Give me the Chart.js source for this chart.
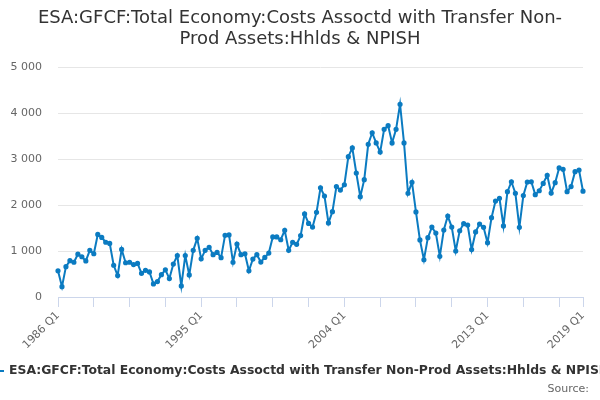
<!DOCTYPE html>
<html>
<head>
<meta charset="utf-8">
<script src="https://cdn.jsdelivr.net/npm/chart.js@4/dist/chart.umd.min.js"></script>
<style>
  html, body { margin: 0; padding: 0; background: #fff; }
  #wrap { width: 600px; height: 400px; }
</style>
</head>
<body>
<div id="wrap"><canvas id="gfcfChart"></canvas></div>
<script>
const serieLabel = 'ESA:GFCF:Total Economy:Costs Assoctd with Transfer Non-Prod Assets:Hhlds & NPISH';
const tituloLineas = ['ESA:GFCF:Total Economy:Costs Assoctd with Transfer Non-', 'Prod Assets:Hhlds & NPISH'];
const anioInicio = 1986;
const anioFin = 2019;

// valores trimestrales 1986 Q1 .. 2019 Q1
const valores = [
    570, 225, 660, 790, 755, 930, 875, 785, 1015, 940,
    1360, 1295, 1190, 1165, 690, 465, 1035, 745, 755, 705,
    730, 515, 580, 545, 285, 335, 485, 590, 400, 715,
    900, 240, 900, 480, 1015, 1275, 830, 1015, 1080, 920,
    970, 855, 1340, 1350, 755, 1150, 920, 940, 570, 825,
    920, 760, 860, 955, 1305, 1305, 1245, 1450, 1015, 1190,
    1145, 1335, 1805, 1600, 1520, 1840, 2375, 2195, 1610, 1855,
    2400, 2325, 2440, 3050, 3240, 2695, 2180, 2550, 3320, 3570,
    3350, 3150, 3645, 3725, 3350, 3645, 4190, 3350, 2255, 2495,
    1850, 1240, 810, 1290, 1520, 1390, 885, 1455, 1760, 1520,
    1000, 1440, 1595, 1565, 1030, 1415, 1585, 1515, 1180, 1725,
    2085, 2145, 1545, 2290, 2505, 2255, 1515, 2205, 2500, 2505,
    2225, 2310, 2470, 2645, 2260, 2485, 2805, 2775, 2290, 2400,
    2725, 2760, 2300
];

const etiquetas = [];
for (let a = anioInicio; a <= anioFin; a++) {
    for (let q = 1; q <= 4; q++) {
        if (a === anioFin && q > 1) break;
        etiquetas.push(`${a} Q${q}`);
    }
}

const ticksConTexto = ['1986 Q1', '1995 Q1', '2004 Q1', '2013 Q1', '2019 Q1'];
const cadaMarca = 9;
const yTicks = [0, 1000, 2000, 3000, 4000, 5000];

const azul = '#0b7bc1';
const fuente = "'DejaVu Sans', sans-serif";

function formato(n) {
    return String(n).replace(/\B(?=(\d{3})+(?!\d))/g, ' ');
}

const extras = {
    id: 'extras',
    afterDraw(chart) {
        const ctx = chart.ctx;
        const w = chart.width;
        ctx.save();
        ctx.textBaseline = 'middle';
        // titulo centrado en todo el canvas
        ctx.fillStyle = '#333333';
        ctx.font = `18px ${fuente}`;
        ctx.textAlign = 'center';
        ctx.fillText(tituloLineas[0], w / 2, 18);
        ctx.fillText(tituloLineas[1], w / 2, 39);
        // leyenda (se sale del canvas, como en la original)
        ctx.strokeStyle = azul;
        ctx.lineWidth = 2;
        ctx.beginPath();
        ctx.moveTo(-10, 371);
        ctx.lineTo(4, 371);
        ctx.stroke();
        ctx.font = `bold 12.4px ${fuente}`;
        ctx.textAlign = 'left';
        ctx.fillText(chart.data.datasets[0].label, 9, 371);
        // fuente
        ctx.fillStyle = '#666666';
        ctx.font = `11px ${fuente}`;
        ctx.textAlign = 'right';
        ctx.fillText('Source:', 589, 389);
        ctx.restore();
    }
};

const lineChart = new Chart(document.getElementById('gfcfChart'), {
    type: 'line',
    data: {
        labels: etiquetas,
        datasets: [
            {
                label: serieLabel,
                data: valores,
                borderColor: azul,
                backgroundColor: azul,
                borderWidth: 2,
                pointRadius: 1.6,
                pointHoverRadius: 3,
                tension: 0
            }
        ]
    },
    options: {
        responsive: true,
        maintainAspectRatio: false,
        animation: false,
        layout: {
            padding: { left: 0, right: 17, top: 67, bottom: 43 }
        },
        plugins: {
            legend: { display: false },
            tooltip: { enabled: false },
            title: { display: false }
        },
        scales: {
            x: {
                offset: false,
                border: { color: '#ccd6eb', width: 1 },
                grid: {
                    drawOnChartArea: false,
                    drawTicks: true,
                    tickLength: 10,
                    color: c => (c.index % cadaMarca === 0 || c.index === etiquetas.length - 1) ? '#ccd6eb' : 'transparent'
                },
                ticks: {
                    autoSkip: false,
                    maxRotation: 45,
                    minRotation: 45,
                    padding: 2,
                    color: '#666666',
                    font: { family: fuente, size: 11 },
                    callback: function (v, i) {
                        const lab = etiquetas[i];
                        return ticksConTexto.includes(lab) ? lab : '';
                    }
                },
                afterFit: s => { s.height = 60; }
            },
            y: {
                min: yTicks[0],
                max: yTicks[yTicks.length - 1],
                border: { display: false },
                grid: { color: '#e6e6e6', drawTicks: false },
                afterBuildTicks: s => { s.ticks = yTicks.map(v => ({ value: v })); },
                ticks: {
                    padding: 16,
                    color: '#666666',
                    font: { family: fuente, size: 11 },
                    callback: v => formato(v)
                },
                afterFit: s => { s.width = 58; }
            }
        }
    },
    plugins: [extras]
});
</script>
</body>
</html>
